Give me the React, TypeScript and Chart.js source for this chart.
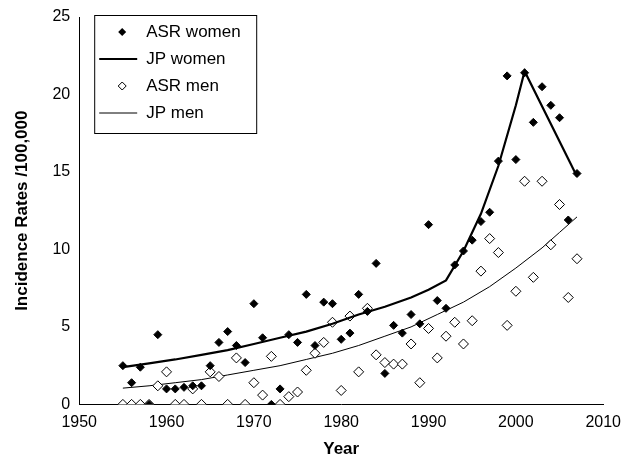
import React, { useEffect, useRef } from "react";
import { Chart, registerables } from "chart.js";
Chart.register(...registerables);

const asrWomenYears = [1955,1956,1957,1958,1959,1960,1961,1962,1963,1964,1965,1966,1967,1968,1969,1970,1971,1972,1973,1974,1975,1976,1977,1978,1979,1980,1981,1982,1983,1984,1985,1986,1987,1988,1989,1990,1991,1992,1993,1994,1995,1996,1997,1998,1999,2000,2001,2002,2003,2004,2005,2006,2007];
const asrWomen = [2.5,1.4,2.4,0,4.5,1.0,1.0,1.1,1.2,1.2,2.5,4.0,4.7,3.8,2.7,6.5,4.3,0,1.0,4.5,4.0,7.1,3.8,6.6,6.5,4.2,4.6,7.1,6.0,9.1,2.0,5.1,4.6,5.8,5.2,11.6,6.7,6.2,9.0,9.9,10.6,11.8,12.4,15.7,21.2,15.8,21.4,18.2,20.5,19.3,18.5,11.9,14.9];
const asrMenYears = asrWomenYears;
const asrMen = [0,0,0,0,1.2,2.1,0,0,1.0,0,2.1,1.8,0,3.0,0,1.4,0.6,3.1,0,0.5,0.8,2.2,3.3,4.0,5.3,0.9,5.7,2.1,6.2,3.2,2.7,2.6,2.6,3.9,1.4,4.9,3.0,4.4,5.3,3.9,5.4,8.6,10.7,9.8,5.1,7.3,14.4,8.2,14.4,10.3,12.9,6.9,9.4];
const jpWomenYears = [1955,1958,1961,1964,1967,1970,1973,1976,1979,1982,1985,1988,1990,1992,1994,1996,1998,2000,2001,2007];
const jpWomen = [2.4,2.65,2.9,3.2,3.5,3.9,4.3,4.7,5.2,5.8,6.3,6.9,7.4,8.0,9.9,12.3,15.4,19.3,21.5,14.7];
const jpMenYears = [1955,1958,1961,1964,1967,1970,1973,1976,1979,1982,1985,1988,1991,1994,1997,2000,2003,2005,2007];
const jpMen = [1.05,1.2,1.4,1.6,1.9,2.2,2.5,2.9,3.3,3.8,4.4,5.0,5.8,6.6,7.6,8.8,10.1,11.1,12.1];
const xTicks = [1950,1960,1970,1980,1990,2000,2010];
const legendLabels = ["ASR women","JP women","ASR men","JP men"];

const pts = (xs: number[], ys: number[]) => ys.map((y, i) => ({ x: xs[i], y }));
const FONT = "'Liberation Sans', Arial, sans-serif";

const legendPlugin = {
  id: "boxLegend",
  afterDraw(chart: any) {
    const { ctx, chartArea } = chart;
    const x0 = chartArea.left + 15, y0 = chartArea.top - 2, w = 162, h = 118;
    ctx.save();
    ctx.fillStyle = "#fff";
    ctx.fillRect(x0, y0, w, h);
    ctx.strokeStyle = "#000";
    ctx.lineWidth = 1;
    ctx.strokeRect(x0 + 0.5, y0 + 0.5, w, h);
    ctx.font = "17px " + FONT;
    ctx.textBaseline = "middle";
    ctx.fillStyle = "#000";
    legendLabels.forEach((lab, i) => {
      const cy = y0 + 17 + i * 27;
      const cx = x0 + 28;
      if (i === 0 || i === 2) {
        ctx.beginPath();
        ctx.moveTo(cx, cy - 4); ctx.lineTo(cx + 4, cy); ctx.lineTo(cx, cy + 4); ctx.lineTo(cx - 4, cy); ctx.closePath();
        if (i === 0) { ctx.fill(); } else { ctx.fillStyle = "#fff"; ctx.fill(); ctx.stroke(); ctx.fillStyle = "#000"; }
      } else {
        ctx.beginPath();
        ctx.lineWidth = i === 1 ? 2.2 : 1;
        ctx.moveTo(x0 + 5, cy); ctx.lineTo(x0 + 43, cy); ctx.stroke();
        ctx.lineWidth = 1;
      }
      ctx.fillText(lab, x0 + 52, cy);
    });
    ctx.restore();
  },
};

export default function App() {
  const ref = useRef<HTMLCanvasElement>(null);
  useEffect(() => {
    const chart = new Chart(ref.current!, {
      type: "scatter",
      data: {
        datasets: [
          { label: "ASR women", data: pts(asrWomenYears, asrWomen), pointStyle: "rectRot", radius: 4, backgroundColor: "#000", borderColor: "#000", borderWidth: 1 },
          { label: "JP women", type: "line", data: pts(jpWomenYears, jpWomen), borderColor: "#000", borderWidth: 2.2, pointRadius: 0, tension: 0 } as any,
          { label: "ASR men", data: pts(asrMenYears, asrMen), pointStyle: "rectRot", radius: 5, backgroundColor: "#fff", borderColor: "#000", borderWidth: 1 },
          { label: "JP men", type: "line", data: pts(jpMenYears, jpMen), borderColor: "#000", borderWidth: 1, pointRadius: 0, tension: 0 } as any,
        ],
      },
      options: {
        animation: false,
        responsive: false,
        layout: { padding: { top: 17, right: 17, left: 8, bottom: 3 } },
        plugins: { legend: { display: false }, tooltip: { enabled: false } },
        scales: {
          x: {
            type: "linear", min: 1950, max: 2010,
            afterBuildTicks: (s: any) => { s.ticks = xTicks.map((v) => ({ value: v })); },
            grid: { display: false, drawTicks: true, tickLength: 6, tickColor: "#000" } as any,
            border: { color: "#000", width: 1 },
            ticks: { color: "#000", font: { family: FONT, size: 16 }, maxRotation: 0, callback: (v: any) => String(v) },
            title: { display: true, text: "Year", color: "#000", font: { family: FONT, size: 17, weight: "bold" }, padding: { top: 4 } },
          },
          y: {
            min: 0, max: 25,
            grid: { display: false, drawTicks: true, tickLength: 6, tickColor: "#000" } as any,
            border: { color: "#000", width: 1 },
            ticks: { stepSize: 5, color: "#000", font: { family: FONT, size: 16 } },
            title: { display: true, text: "Incidence Rates /100,000", color: "#000", font: { family: FONT, size: 17, weight: "bold" }, padding: { bottom: 17 } },
          },
        },
      },
      plugins: [legendPlugin],
    });
    return () => chart.destroy();
  }, []);
  return (
    <div style={{ position: "absolute", left: 0, top: 0, width: 624, height: 467, background: "#fff" }}>
      <canvas ref={ref} width={624} height={467} style={{ width: 624, height: 467 }} />
    </div>
  );
}
